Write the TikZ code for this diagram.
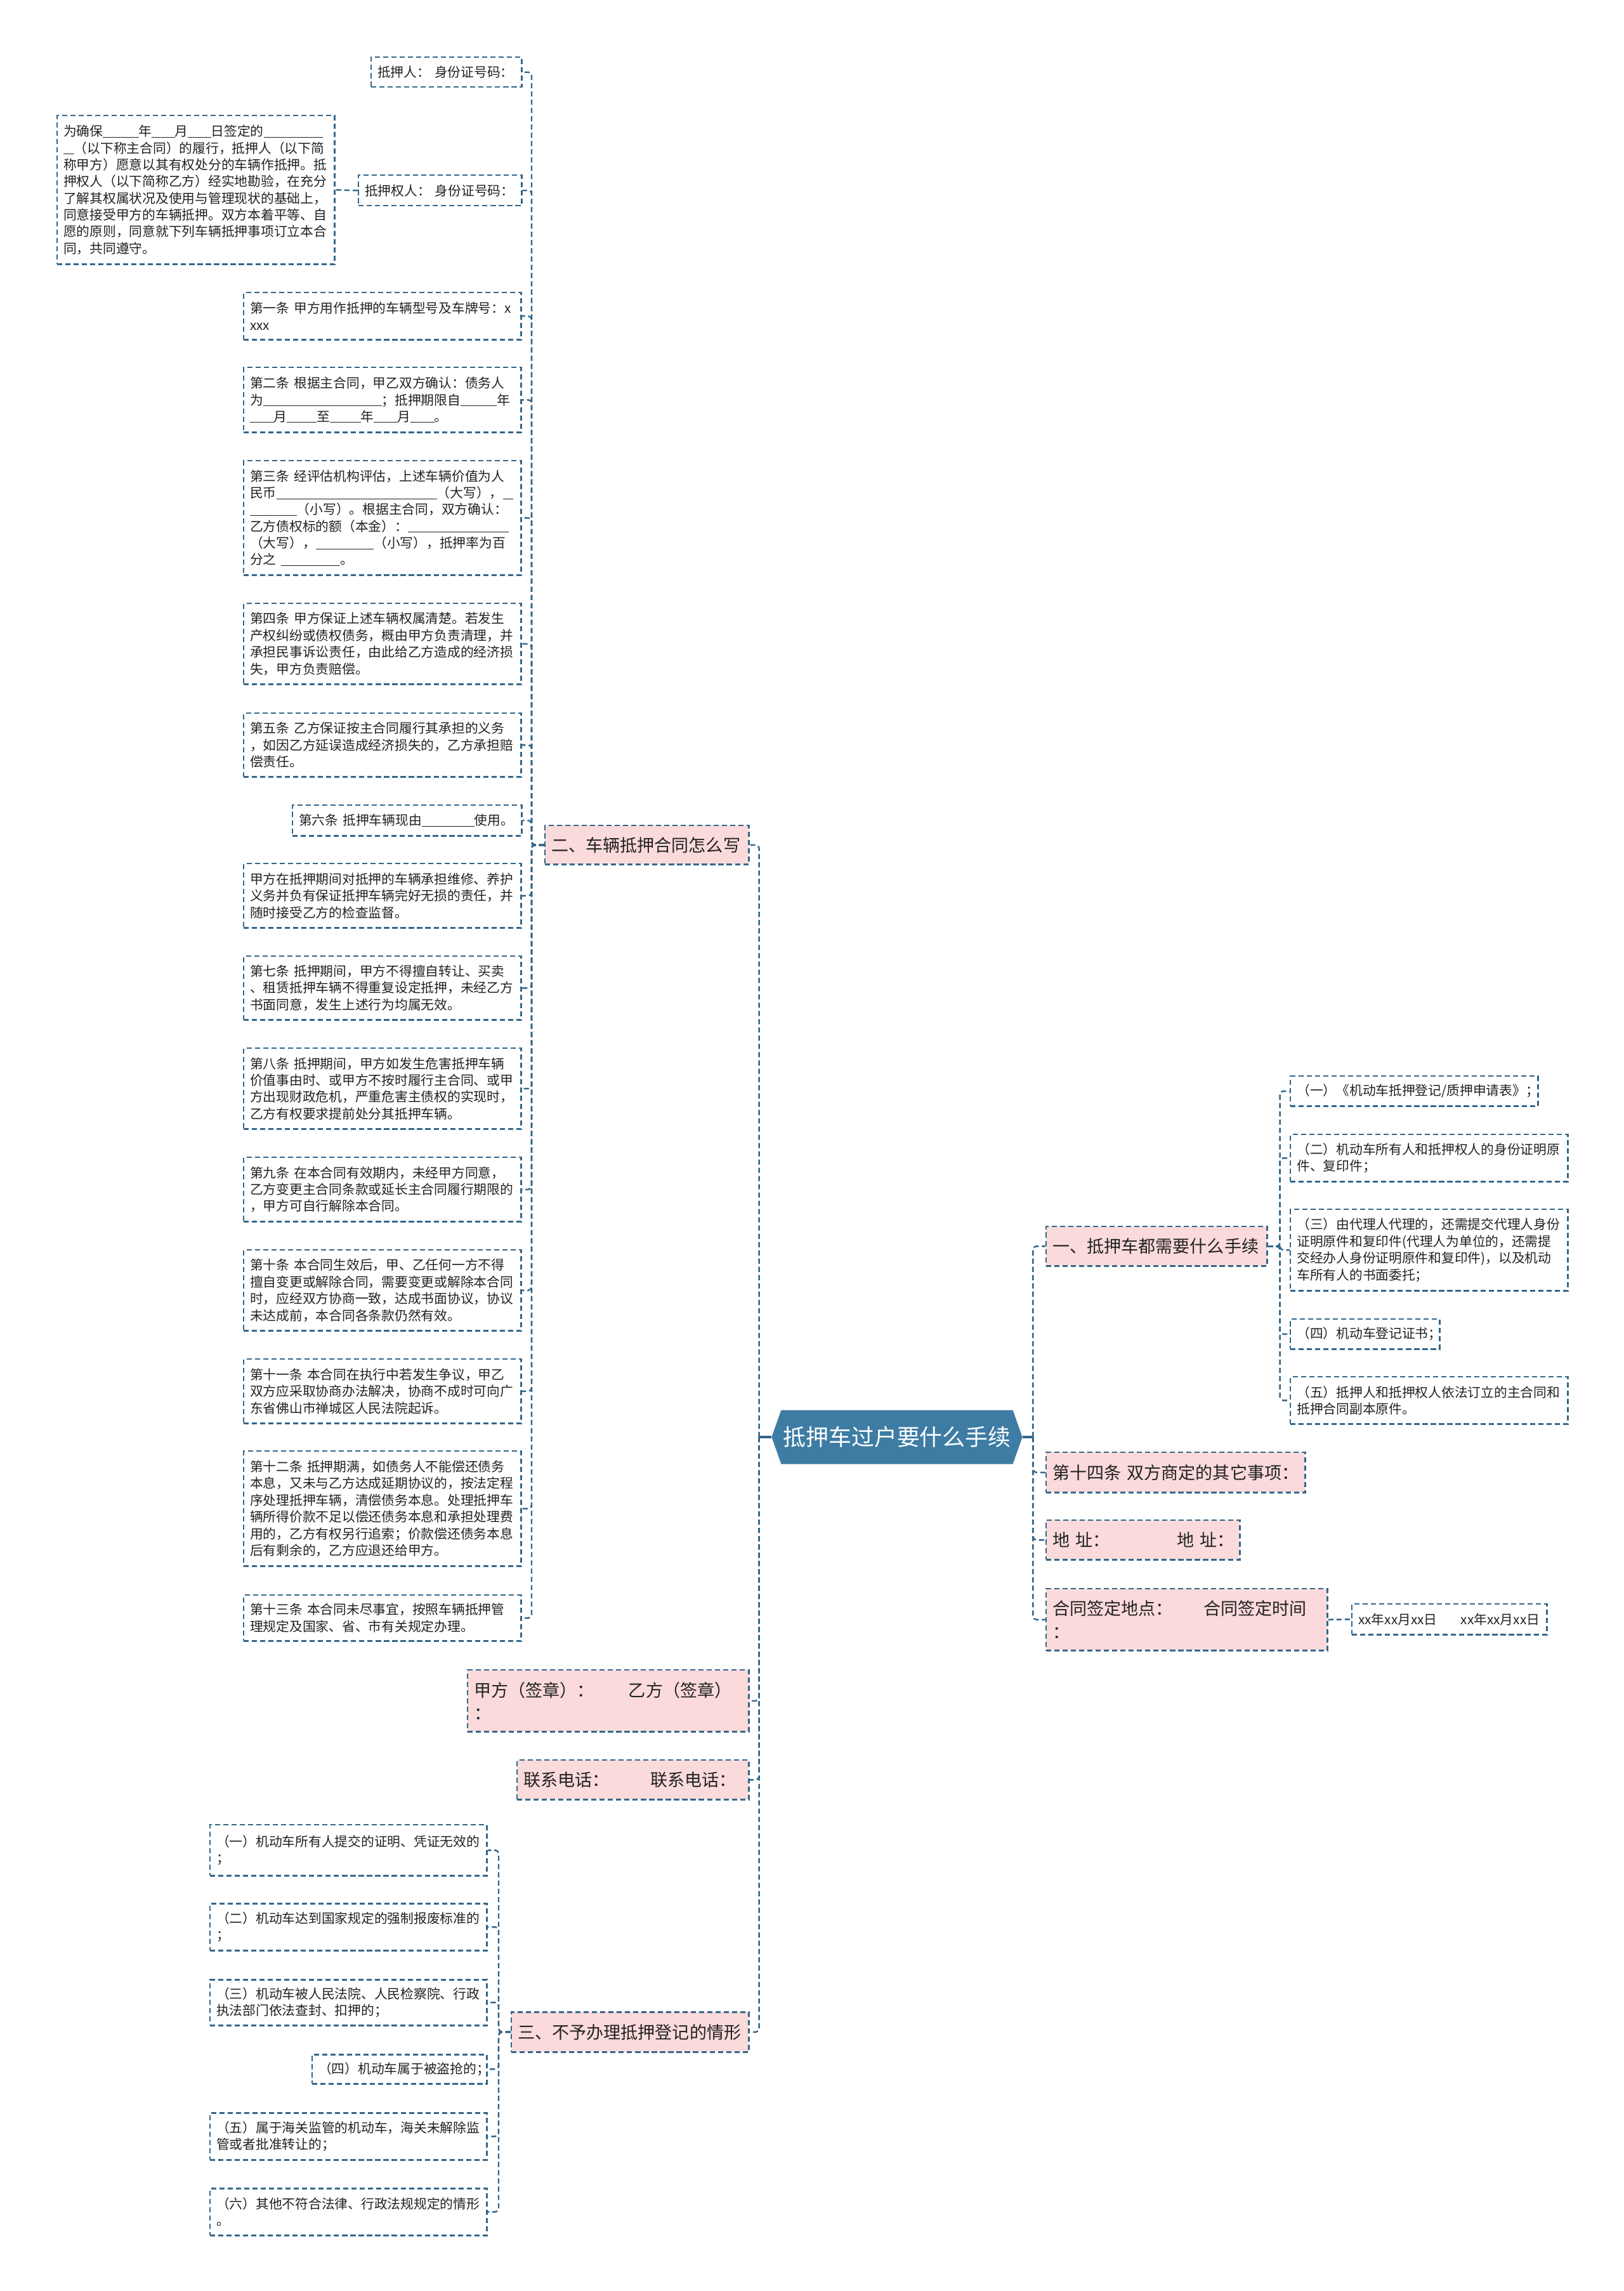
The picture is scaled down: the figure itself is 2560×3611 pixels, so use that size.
\documentclass[tikz,border=0pt]{standalone}
\usepackage{fontspec}
\setmainfont{Noto Sans CJK SC}
\usepackage{tikz}
\usetikzlibrary{shapes.symbols}
\definecolor{linec}{HTML}{33668A}
\definecolor{hubfill}{HTML}{3E7CA4}
\definecolor{pinkfill}{HTML}{FADADB}
\definecolor{inktext}{HTML}{222222}
\newcommand\leafsize{\fontsize{5.9pt}{7.5pt}\selectfont}
\newcommand\sectsize{\fontsize{7.7pt}{10.4pt}\selectfont}
\newcommand\hubsize{\fontsize{10.2pt}{12pt}\selectfont}
\newcommand\fillin[1]{\rule[-0.1em]{#1em}{0.05em}}
\tikzset{
  linkline/.style={draw=linec, line width=0.7pt, dash pattern=on 2.3pt off 1.4pt, rounded corners=1.5pt},
  hubstub/.style={draw=linec, line width=0.9pt},
  leafbox/.style={draw=linec, line width=0.7pt, dash pattern=on 2.3pt off 1.4pt, fill=white, text=inktext, anchor=north west, align=left, inner xsep=0.1cm, inner ysep=0.04cm, font=\leafsize},
  colbox/.style={leafbox, text width=4.17cm},
  secbox/.style={leafbox, fill=pinkfill, font=\sectsize},
  hubnode/.style={signal, signal to=west and east, signal pointer angle=141, fill=hubfill, text=white, font=\hubsize, minimum width=3.95cm, minimum height=0.85cm, inner sep=0pt}
}
\begin{document}
\begin{tikzpicture}[x=0.01cm, y=-0.01cm]
  \useasboundingbox (0,0) rectangle (2560,3611);
  \node[hubnode] (hub) at (1414,2265) {抵押车过户要什么手续};
  \node[secbox, text width=3.01cm, minimum height=0.61cm] (sec2) at (858,1300) {二、车辆抵押合同怎么写};
  \node[secbox, text width=4.23cm, minimum height=0.97cm] (sign) at (736,2631) {甲方（签章）：\kern2em乙方（签章）\\：};
  \node[secbox, text width=3.45cm, minimum height=0.62cm] (phone) at (814,2773) {联系电话：\kern2.4em联系电话：};
  \node[secbox, text width=3.54cm, minimum height=0.63cm] (sec3) at (805,3170) {三、不予办理抵押登记的情形};
  \node[secbox, text width=3.28cm, minimum height=0.62cm] (sec1) at (1648,1932) {一、抵押车都需要什么手续};
  \node[secbox, text width=3.88cm, minimum height=0.63cm] (art14) at (1648,2288) {第十四条~双方商定的其它事项：};
  \node[secbox, text width=2.85cm, minimum height=0.62cm] (addr) at (1648,2395) {地~址：\kern3.9em地~址：};
  \node[secbox, text width=4.23cm, minimum height=0.97cm] (place) at (1648,2503) {合同签定地点：\kern1.8em合同签定时间\\：};
  \node[leafbox, text width=2.17cm, minimum height=0.47cm] (pledgor) at (584,89) {抵押人：~身份证号码：};
  \node[leafbox, text width=2.37cm, minimum height=0.48cm] (pledgee) at (564,275) {抵押权人：~身份证号码：};
  \node[colbox, minimum height=2.34cm] (preamble) at (89,181) {为确保\fillin{2.7}年\fillin{1.75}月\fillin{1.75}日签定的\fillin{4.5}\\\fillin{0.8}（以下称主合同）的履行，抵押人（以下简\\称甲方）愿意以其有权处分的车辆作抵押。抵\\押权人（以下简称乙方）经实地勘验，在充分\\了解其权属状况及使用与管理现状的基础上，\\同意接受甲方的车辆抵押。双方本着平等、自\\愿的原则，同意就下列车辆抵押事项订立本合\\同，共同遵守。};
  \node[colbox, minimum height=0.74cm] (art1) at (383,460) {第一条~甲方用作抵押的车辆型号及车牌号：x\\xxx};
  \node[colbox, minimum height=1.02cm] (art2) at (383,578) {第二条~根据主合同，甲乙双方确认：债务人\\为\fillin{9}；抵押期限自\fillin{2.75}年\\\fillin{1.8}月\fillin{2.25}至\fillin{2.35}年\fillin{1.8}月\fillin{1.8}。};
  \node[colbox, minimum height=1.8cm] (art3) at (383,725) {第三条~经评估机构评估，上述车辆价值为人\\民币\fillin{12.2}（大写），\fillin{0.8}\\\fillin{3.55}（小写）。根据主合同，双方确认：\\乙方债权标的额（本金）：\fillin{7.65}\\（大写），\fillin{4.4}（小写），抵押率为百\\分之~\fillin{4.5}。};
  \node[colbox, minimum height=1.27cm] (art4) at (383,950) {第四条~甲方保证上述车辆权属清楚。若发生\\产权纠纷或债权债务，概由甲方负责清理，并\\承担民事诉讼责任，由此给乙方造成的经济损\\失，甲方负责赔偿。};
  \node[colbox, minimum height=1.0cm] (art5) at (383,1123) {第五条~乙方保证按主合同履行其承担的义务\\，如因乙方延误造成经济损失的，乙方承担赔\\偿责任。};
  \node[leafbox, text width=3.41cm, minimum height=0.48cm] (art6) at (460,1268) {第六条~抵押车辆现由\fillin{4}使用。};
  \node[colbox, minimum height=1.01cm] (care) at (383,1360) {甲方在抵押期间对抵押的车辆承担维修、养护\\义务并负有保证抵押车辆完好无损的责任，并\\随时接受乙方的检查监督。};
  \node[colbox, minimum height=1.0cm] (art7) at (383,1506) {第七条~抵押期间，甲方不得擅自转让、买卖\\、租赁抵押车辆不得重复设定抵押，未经乙方\\书面同意，发生上述行为均属无效。};
  \node[colbox, minimum height=1.27cm] (art8) at (383,1651) {第八条~抵押期间，甲方如发生危害抵押车辆\\价值事由时、或甲方不按时履行主合同、或甲\\方出现财政危机，严重危害主债权的实现时，\\乙方有权要求提前处分其抵押车辆。};
  \node[colbox, minimum height=1.01cm] (art9) at (383,1823) {第九条~在本合同有效期内，未经甲方同意，\\乙方变更主合同条款或延长主合同履行期限的\\，甲方可自行解除本合同。};
  \node[colbox, minimum height=1.27cm] (art10) at (383,1969) {第十条~本合同生效后，甲、乙任何一方不得\\擅自变更或解除合同，需要变更或解除本合同\\时，应经双方协商一致，达成书面协议，协议\\未达成前，本合同各条款仍然有效。};
  \node[colbox, minimum height=1.01cm] (art11) at (383,2141) {第十一条~本合同在执行中若发生争议，甲乙\\双方应采取协商办法解决，协商不成时可向广\\东省佛山市禅城区人民法院起诉。};
  \node[colbox, minimum height=1.81cm] (art12) at (383,2286) {第十二条~抵押期满，如债务人不能偿还债务\\本息，又未与乙方达成延期协议的，按法定程\\序处理抵押车辆，清偿债务本息。处理抵押车\\辆所得价款不足以偿还债务本息和承担处理费\\用的，乙方有权另行追索；价款偿还债务本息\\后有剩余的，乙方应退还给甲方。};
  \node[colbox, minimum height=0.72cm] (art13) at (383,2513) {第十三条~本合同未尽事宜，按照车辆抵押管\\理规定及国家、省、市有关规定办理。};
  \node[leafbox, text width=4.16cm, minimum height=0.8cm] (no1) at (330,2875) {（一）机动车所有人提交的证明、凭证无效的\\；};
  \node[leafbox, text width=4.16cm, minimum height=0.74cm] (no2) at (330,2999) {（二）机动车达到国家规定的强制报废标准的\\；};
  \node[leafbox, text width=4.16cm, minimum height=0.72cm] (no3) at (330,3119) {（三）机动车被人民法院、人民检察院、行政\\执法部门依法查封、扣押的；};
  \node[leafbox, text width=2.55cm, minimum height=0.46cm] (no4) at (491,3237) {（四）机动车属于被盗抢的；};
  \node[leafbox, text width=4.16cm, minimum height=0.74cm] (no5) at (330,3329) {（五）属于海关监管的机动车，海关未解除监\\管或者批准转让的；};
  \node[leafbox, text width=4.16cm, minimum height=0.74cm] (no6) at (330,3448) {（六）其他不符合法律、行政法规规定的情形\\。};
  \node[leafbox, text width=3.7cm, minimum height=0.47cm] (doc1) at (2033,1695) {（一）《机动车抵押登记/质押申请表》；};
  \node[leafbox, text width=4.17cm, minimum height=0.74cm] (doc2) at (2033,1787) {（二）机动车所有人和抵押权人的身份证明原\\件、复印件；};
  \node[leafbox, text width=4.17cm, minimum height=1.28cm] (doc3) at (2033,1905) {（三）由代理人代理的，还需提交代理人身份\\证明原件和复印件(代理人为单位的，还需提\\交经办人身份证明原件和复印件)，以及机动\\车所有人的书面委托；};
  \node[leafbox, text width=2.15cm, minimum height=0.47cm] (doc4) at (2033,2078) {（四）机动车登记证书；};
  \node[leafbox, text width=4.17cm, minimum height=0.74cm] (doc5) at (2033,2169) {（五）抵押人和抵押权人依法订立的主合同和\\抵押合同副本原件。};
  \node[leafbox, text width=2.87cm, minimum height=0.48cm] (date) at (2130,2527) {xx年xx月xx日\kern1.8em xx年xx月xx日};
  \draw[hubstub] (hub.west) -- ++(-19,0) coordinate (lhub);
  \draw[hubstub] (hub.east) -- ++(16,0) coordinate (rhub);
  \draw[linkline] (lhub) |- (sec2.east);
  \draw[linkline] (lhub) |- (sign.east);
  \draw[linkline] (lhub) |- (phone.east);
  \draw[linkline] (lhub) |- (sec3.east);
  \draw[linkline] (rhub) |- (sec1.west);
  \draw[linkline] (rhub) |- (art14.west);
  \draw[linkline] (rhub) |- (addr.west);
  \draw[linkline] (rhub) |- (place.west);
  \draw[linkline] (sec2.west) -- ++(-20,0) |- (pledgor.east);
  \draw[linkline] (sec2.west) -- ++(-20,0) |- (pledgee.east);
  \draw[linkline] (pledgee.west) -- (preamble.east);
  \draw[linkline] (sec2.west) -- ++(-20,0) |- (art1.east);
  \draw[linkline] (sec2.west) -- ++(-20,0) |- (art2.east);
  \draw[linkline] (sec2.west) -- ++(-20,0) |- (art3.east);
  \draw[linkline] (sec2.west) -- ++(-20,0) |- (art4.east);
  \draw[linkline] (sec2.west) -- ++(-20,0) |- (art5.east);
  \draw[linkline] (sec2.west) -- ++(-20,0) |- (art6.east);
  \draw[linkline] (sec2.west) -- ++(-20,0) |- (care.east);
  \draw[linkline] (sec2.west) -- ++(-20,0) |- (art7.east);
  \draw[linkline] (sec2.west) -- ++(-20,0) |- (art8.east);
  \draw[linkline] (sec2.west) -- ++(-20,0) |- (art9.east);
  \draw[linkline] (sec2.west) -- ++(-20,0) |- (art10.east);
  \draw[linkline] (sec2.west) -- ++(-20,0) |- (art11.east);
  \draw[linkline] (sec2.west) -- ++(-20,0) |- (art12.east);
  \draw[linkline] (sec2.west) -- ++(-20,0) |- (art13.east);
  \draw[linkline] (sec3.west) -- ++(-19,0) |- (no1.east);
  \draw[linkline] (sec3.west) -- ++(-19,0) |- (no2.east);
  \draw[linkline] (sec3.west) -- ++(-19,0) |- (no3.east);
  \draw[linkline] (sec3.west) -- ++(-19,0) |- (no4.east);
  \draw[linkline] (sec3.west) -- ++(-19,0) |- (no5.east);
  \draw[linkline] (sec3.west) -- ++(-19,0) |- (no6.east);
  \draw[linkline] (sec1.east) -- ++(19,0) |- (doc1.west);
  \draw[linkline] (sec1.east) -- ++(19,0) |- (doc2.west);
  \draw[linkline] (sec1.east) -- ++(19,0) |- (doc3.west);
  \draw[linkline] (sec1.east) -- ++(19,0) |- (doc4.west);
  \draw[linkline] (sec1.east) -- ++(19,0) |- (doc5.west);
  \draw[linkline] (place.east) -- (date.west);
\end{tikzpicture}
\end{document}
